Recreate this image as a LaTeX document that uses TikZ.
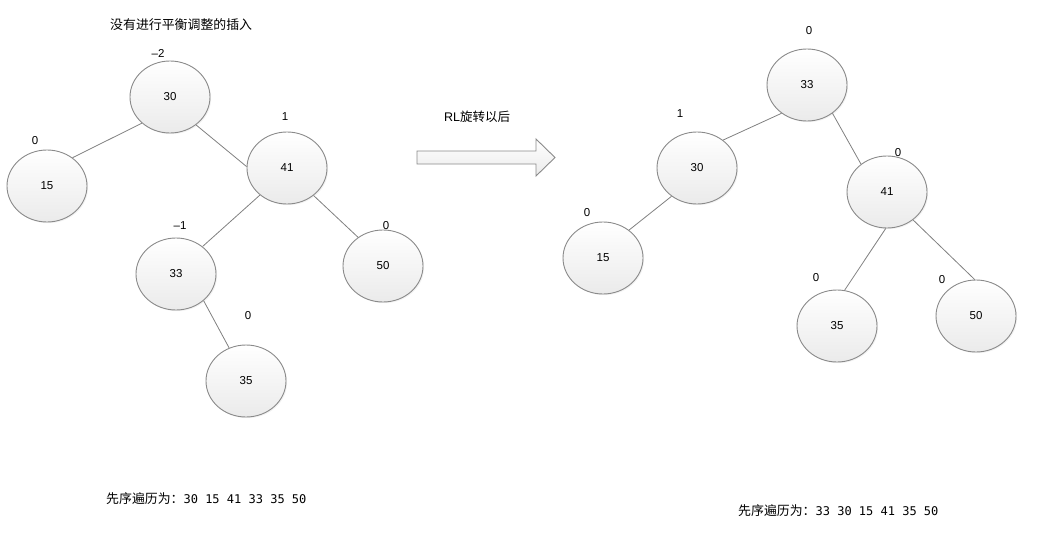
\documentclass[tikz,border=0pt]{standalone}
\usepackage{fontspec}
\setmainfont{Liberation Sans}
\newfontfamily\cjk{Noto Sans CJK SC}
\newfontfamily\monof{DejaVu Sans Mono}
\usetikzlibrary{shapes.geometric,shadows}
\definecolor{edgegray}{HTML}{808080}
\definecolor{bordergray}{HTML}{8A8A8A}
\tikzset{
  tnode/.style={ellipse, draw=bordergray, line width=0.9pt, minimum width=80pt, minimum height=72pt,
    inner sep=0pt, top color=white, bottom color=black!8, shading angle=0,
    font=\fontsize{11.5}{13}\selectfont,
    drop shadow={opacity=0.10, shadow xshift=1.2pt, shadow yshift=-1.2pt}},
  bal/.style={font=\fontsize{11.5}{13}\selectfont, inner sep=0pt},
  link/.style={draw=edgegray, line width=0.8pt},
  caption/.style={font=\cjk\fontsize{12.9}{14}\selectfont, inner sep=0pt, anchor=west},
}
\begin{document}
\begin{tikzpicture}[x=1pt,y=-1pt]
\path[use as bounding box] (0,0) rectangle (1043,538);
% left tree
\node[tnode] (L30) at (170,97) {30};
\node[tnode] (L15) at (47,186) {15};
\node[tnode] (L41) at (287,168) {41};
\node[tnode] (L33) at (176,274) {33};
\node[tnode] (L50) at (383,266) {50};
\node[tnode] (L35) at (246,381) {35};
\draw[link] (L30.223) -- (L15.48);
\draw[link] (L30.313) -- (L41.178);
\draw[link] (L41.225) -- (L33.46);
\draw[link] (L41.314) -- (L50.131);
\draw[link] (L33.316) -- (L35.117);
\node[bal] (bL30) at (158,53) {\textendash2};
\node[bal] (bL15) at (35,141) {0};
\node[bal] (bL41) at (285,117) {1};
\node[bal] (bL33) at (180,226) {\textendash1};
\node[bal] (bL50) at (386,226) {0};
\node[bal] (bL35) at (248,316) {0};
% right tree
\node[tnode] (R33) at (807,85) {33};
\node[tnode] (R30) at (697,168) {30};
\node[tnode] (R15) at (603,258) {15};
\node[tnode] (R41) at (887,192) {41};
\node[tnode] (R35) at (837,326) {35};
\node[tnode] (R50) at (976,316) {50};
\draw[link] (R33.228) -- (R30.47);
\draw[link] (R30.228) -- (R15.47);
\draw[link] (R33.312) -- (R41.133);
\draw[link] (R41.268) -- (R35.78);
\draw[link] (R41.313) -- (R50.92);
\node[bal] (bR33) at (809,31) {0};
\node[bal] (bR30) at (680,114) {1};
\node[bal] (bR15) at (587,213) {0};
\node[bal] (bR41) at (898,153) {0};
\node[bal] (bR35) at (816,278) {0};
\node[bal] (bR50) at (942,280) {0};
% arrow
\draw[draw=bordergray, line width=0.9pt, top color=white, bottom color=black!8, shading angle=0]
  (417,151) -- (536,151) -- (536,139) -- (555,157.5) -- (536,176) -- (536,164) -- (417,164) -- cycle;
% texts
\node[caption] (title) at (110,25) {没有进行平衡调整的插入};
\node[caption, font=\fontsize{12.5}{14}\selectfont] (rl) at (444,117) {RL{\cjk 旋转以后}};
\node[caption] (preL) at (106,499) {先序遍历为：{\monof\fontsize{12}{13}\selectfont 30 15 41 33 35 50}};
\node[caption] (preR) at (738,511) {先序遍历为：{\monof\fontsize{12}{13}\selectfont 33 30 15 41 35 50}};
\end{tikzpicture}
\end{document}
